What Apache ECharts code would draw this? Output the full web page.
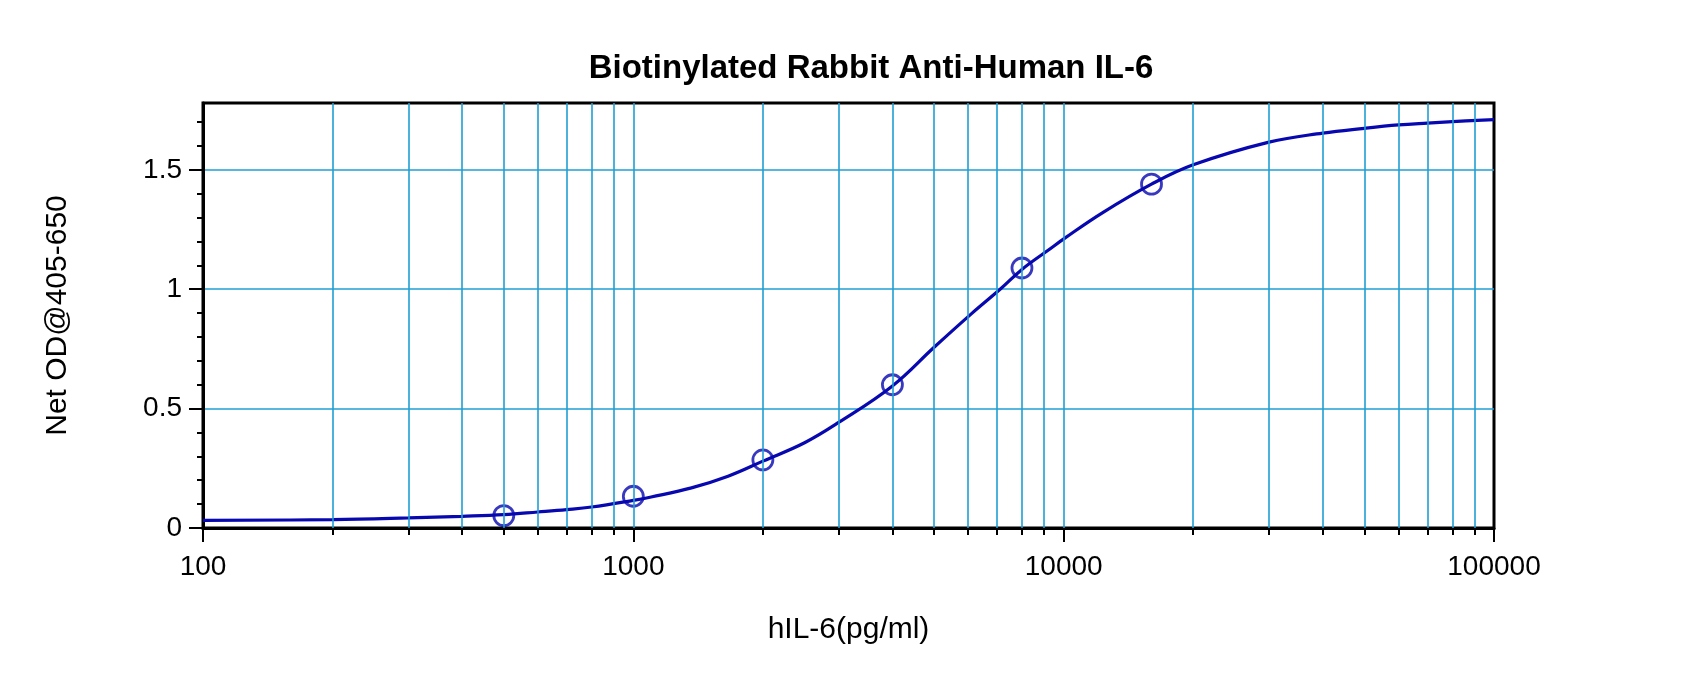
<!DOCTYPE html>
<html>
<head>
<meta charset="utf-8">
<script src="https://cdn.jsdelivr.net/npm/echarts@6/dist/echarts.min.js"></script>
<style>
html,body{margin:0;padding:0;background:#fff;}
#chart{width:1700px;height:678px;}
</style>
</head>
<body>
<div id="chart"></div>
<script>
// ---- data ----
var titleText = 'Biotinylated Rabbit Anti-Human IL-6';
var xAxisName = 'hIL-6(pg/ml)';
var yAxisName = 'Net OD@405-650';

var standardX = [500, 1000, 2000, 4000, 8000, 16000];
var standardY = [0.052, 0.133, 0.285, 0.600, 1.089, 1.440];

var curveX = [100, 200, 300, 400, 500, 600, 700, 800, 1000, 1100, 1365, 1660, 2000, 2500, 3000, 4000, 5000, 6100, 7150, 8000, 9200, 10100, 12300, 16000, 20000, 30000, 40000, 50000, 60000, 70000, 80000, 100000];
var curveY = [0.032, 0.035, 0.042, 0.049, 0.056, 0.067, 0.077, 0.088, 0.116, 0.130, 0.168, 0.217, 0.280, 0.357, 0.442, 0.595, 0.757, 0.897, 1.003, 1.083, 1.163, 1.216, 1.320, 1.440, 1.521, 1.616, 1.654, 1.674, 1.688, 1.696, 1.702, 1.710];

var xMajorTicks = [100, 1000, 10000, 100000];
var xMinorTicks = [200, 300, 400, 500, 600, 700, 800, 900,
                   2000, 3000, 4000, 5000, 6000, 7000, 8000, 9000,
                   20000, 30000, 40000, 50000, 60000, 70000, 80000, 90000];
var xGridValues = [200, 300, 400, 500, 600, 700, 800, 900, 1000,
                   2000, 3000, 4000, 5000, 6000, 7000, 8000, 9000, 10000,
                   20000, 30000, 40000, 50000, 60000, 70000, 80000, 90000];
var yMajorTicks = [0, 0.5, 1, 1.5];
var yMinorTicks = [0.1, 0.2, 0.3, 0.4, 0.6, 0.7, 0.8, 0.9, 1.1, 1.2, 1.3, 1.4, 1.6, 1.7];
var xMin = 100, xMax = 100000, yMin = 0, yMax = 1.78;

// ---- build ----
var FONT = 'Liberation Sans, Arial, sans-serif';
var GRIDC = '#1f9fd3';
var BLUE = '#0808b0';

function pairs(xs, ys){ return xs.map(function(x,i){ return [x, ys[i]]; }); }

var chart = echarts.init(document.getElementById('chart'), null, {renderer:'canvas'});
chart.setOption({
  animation: false,
  backgroundColor: '#ffffff',
  title: {
    text: titleText,
    left: 866, top: 47, textAlign: 'center',
    textStyle: {fontFamily: FONT, fontSize: 33, fontWeight: 'bold', color: '#000'}
  },
  grid: {
    left: 203, right: 206, top: 103, bottom: 150,
    show: true, borderColor: '#000', borderWidth: 3, backgroundColor: 'transparent',
    outerBoundsMode: 'none'
  },
  xAxis: [{
    type: 'log', logBase: 10, min: xMin, max: xMax, position: 'bottom',
    name: xAxisName, nameLocation: 'middle', nameGap: 87, nameMoveOverlap: false,
    nameTextStyle: {fontFamily: FONT, fontSize: 30, color: '#000'},
    axisLine: {show: true, onZero: false, lineStyle: {color: '#000', width: 3}},
    axisTick: {show: true, inside: false, length: 14, customValues: xMajorTicks, lineStyle: {color: '#000', width: 2}},
    axisLabel: {show: true, customValues: xMajorTicks, margin: 25, fontFamily: FONT, fontSize: 28, color: '#000',
                formatter: function(v){ return String(Math.round(v)); }},
    splitLine: {show: false}, minorTick: {show: false}
  }, {
    type: 'log', logBase: 10, min: xMin, max: xMax, position: 'bottom',
    axisLine: {show: false},
    axisTick: {show: true, inside: false, length: 7, customValues: xMinorTicks, lineStyle: {color: '#000', width: 2}},
    axisLabel: {show: false},
    splitLine: {show: false}
  }],
  yAxis: [{
    type: 'value', min: yMin, max: yMax, interval: 0.5, position: 'left',
    name: yAxisName, nameLocation: 'middle', nameGap: 130, nameRotate: 90, nameMoveOverlap: false,
    nameTextStyle: {fontFamily: FONT, fontSize: 30, color: '#000'},
    axisLine: {show: true, onZero: false, lineStyle: {color: '#000', width: 3}},
    axisTick: {show: true, inside: false, length: 14, customValues: yMajorTicks, lineStyle: {color: '#000', width: 2}},
    axisLabel: {show: true, customValues: yMajorTicks, margin: 21, fontFamily: FONT, fontSize: 28, color: '#000'},
    splitLine: {show: true, lineStyle: {color: GRIDC, width: 1.6}}
  }, {
    type: 'value', min: yMin, max: yMax, position: 'left',
    axisLine: {show: false},
    axisTick: {show: true, inside: false, length: 6, customValues: yMinorTicks, lineStyle: {color: '#000', width: 2}},
    axisLabel: {show: false},
    splitLine: {show: false}
  }],
  series: [{
    name: 'grid', type: 'scatter', xAxisIndex: 0, yAxisIndex: 0, data: [], z: 1, silent: true,
    markLine: {
      silent: true, symbol: ['none', 'none'], animation: false,
      label: {show: false},
      lineStyle: {color: GRIDC, width: 1.6, type: 'solid'},
      emphasis: {disabled: true},
      data: xGridValues.map(function(v){ return {xAxis: v}; })
    }
  }, {
    name: 'fit', type: 'line', xAxisIndex: 0, yAxisIndex: 0, z: 3,
    data: pairs(curveX, curveY), smooth: 0.4,
    showSymbol: false, symbol: 'none',
    lineStyle: {color: BLUE, width: 3.2}
  }, {
    name: 'standards', type: 'scatter', xAxisIndex: 0, yAxisIndex: 0, z: 4,
    data: pairs(standardX, standardY), symbol: 'circle', symbolSize: 20,
    itemStyle: {color: 'rgba(0,0,0,0)', borderColor: BLUE, borderWidth: 2.8}
  }]
});
</script>
</body>
</html>
